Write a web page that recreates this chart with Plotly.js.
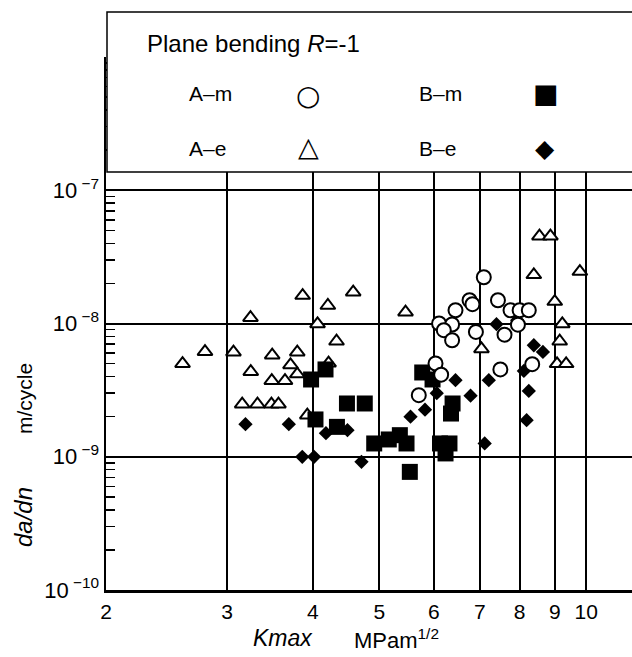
<!DOCTYPE html>
<html><head><meta charset="utf-8">
<script src="https://cdn.plot.ly/plotly-3.0.1.min.js"></script>
<style>html,body{margin:0;padding:0;overflow:hidden;background:#fff}</style>
</head><body>
<div id="chart" style="width:632px;height:657px"></div>
<script>
// ---- data (Kmax in MPa m^1/2, da/dn in m/cycle) ----
const Am_x = [7.095, 6.764, 6.83, 6.453, 7.44, 7.76, 8.0, 8.25, 6.107, 6.38, 6.205, 6.38, 6.91, 7.605, 7.955, 6.035, 6.15, 5.706, 7.50, 8.345];
const Am_y = [2.225e-8, 1.495e-8, 1.396e-8, 1.258e-8, 1.495e-8, 1.258e-8, 1.258e-8, 1.258e-8, 1.0e-8, 9.83e-9, 8.91e-9, 7.49e-9, 8.65e-9, 8.24e-9, 9.8e-9, 5.01e-9, 4.13e-9, 2.90e-9, 4.52e-9, 4.95e-9];

const Ae_x = [2.585, 2.787, 3.066, 3.246, 3.491, 3.797, 3.249, 3.712, 3.486, 3.644, 3.797, 3.157, 3.323, 3.482, 3.565, 3.927, 3.866, 4.207, 4.58, 4.064, 4.331, 5.458, 4.217, 7.04, 8.55, 8.87, 8.39, 9.79, 9.0, 9.23, 9.15, 9.07, 9.35];
const Ae_y = [4.99e-9, 6.14e-9, 6.09e-9, 1.105e-8, 5.78e-9, 6.09e-9, 4.35e-9, 4.89e-9, 3.72e-9, 3.72e-9, 4.17e-9, 2.48e-9, 2.48e-9, 2.48e-9, 2.48e-9, 2.05e-9, 1.62e-8, 1.365e-8, 1.717e-8, 9.93e-9, 7.36e-9, 1.216e-8, 5.04e-9, 6.45e-9, 4.52e-8, 4.52e-8, 2.32e-8, 2.455e-8, 1.46e-8, 9.93e-9, 7.36e-9, 4.98e-9, 4.98e-9];

const Bm_x = [4.174, 3.977, 4.485, 4.761, 4.036, 4.337, 4.914, 5.16, 5.355, 5.476, 5.537, 5.772, 5.975, 6.39, 6.356, 6.126, 6.324, 6.241];
const Bm_y = [4.52e-9, 3.80e-9, 2.51e-9, 2.51e-9, 1.905e-9, 1.676e-9, 1.258e-9, 1.348e-9, 1.452e-9, 1.258e-9, 7.70e-10, 4.29e-9, 3.80e-9, 2.51e-9, 2.11e-9, 1.258e-9, 1.258e-9, 1.059e-9];

const Be_x = [3.192, 3.691, 3.861, 4.017, 4.18, 4.493, 4.709, 5.55, 5.826, 6.06, 6.453, 6.787, 7.215, 7.116, 7.403, 7.934, 8.39, 8.65, 8.115, 8.25, 8.19];
const Be_y = [1.756e-9, 1.756e-9, 9.98e-10, 9.98e-10, 1.503e-9, 1.583e-9, 9.16e-10, 2.0e-9, 2.256e-9, 3.0e-9, 3.754e-9, 2.873e-9, 3.754e-9, 1.258e-9, 9.88e-9, 1.059e-8, 6.87e-9, 6.12e-9, 4.41e-9, 3.12e-9, 1.883e-9];

const seriesNames = ['A–m', 'A–e', 'B–m', 'B–e'];
const xTickVals = [2, 3, 4, 5, 6, 7, 8, 9, 10];
const xTickText = ['2', '3', '4', '5', '6', '7', '8', '9', '10'];
const yTickVals = [1e-10, 1e-9, 1e-8, 1e-7];
const yTickText = ['10<sup> −10</sup>', '10<sup> −9</sup>', '10<sup> −8</sup>', '10<sup> −7</sup>'];
const legendTitle = 'Plane bending <i>R</i>=-1';

// ---- layout helpers ----
const W = 632, H = 657;
const M = {l: 106, r: 0, t: 57, b: 67};
const PW = W - M.l - M.r, PH = H - M.t - M.b;
const px = v => (v - M.l) / PW;          // pixel -> paper x
const py = v => (H - M.b - v) / PH;       // pixel -> paper y

const minorVals = [];
for (let e = -10; e <= -7; e++) for (let k = 2; k <= 9; k++) minorVals.push(k * Math.pow(10, e));

const FONT = 'Liberation Sans, Arial, sans-serif';
const black = '#000';

const traces = [
  {x: Ae_x, y: Ae_y, name: seriesNames[1], type: 'scatter', mode: 'markers',
   marker: {symbol: 'triangle-up', size: 13, color: '#fff', line: {color: black, width: 2}}},
  {x: Be_x, y: Be_y, name: seriesNames[3], type: 'scatter', mode: 'markers',
   marker: {symbol: 'diamond', size: 11, color: black, line: {width: 0}}},
  {x: Bm_x, y: Bm_y, name: seriesNames[2], type: 'scatter', mode: 'markers',
   marker: {symbol: 'square', size: 16, color: black, line: {width: 0}}},
  {x: Am_x, y: Am_y, name: seriesNames[0], type: 'scatter', mode: 'markers',
   marker: {symbol: 'circle', size: 14, color: '#fff', line: {color: black, width: 2}}}
];

const ann = (text, x, y, opts) => Object.assign({
  text: text, xref: 'paper', yref: 'paper', x: px(x), y: py(y), showarrow: false,
  xanchor: 'left', yanchor: 'middle', font: {family: FONT, size: 21, color: black}
}, opts || {});

const layout = {
  width: W, height: H, margin: M, showlegend: false,
  paper_bgcolor: '#fff', plot_bgcolor: '#fff',
  font: {family: FONT, color: black},
  xaxis: {
    type: 'log', range: [Math.log10(2), Math.log10(2) + PW / 687],
    tickmode: 'array', tickvals: xTickVals, ticktext: xTickText,
    ticks: '', showgrid: true, gridcolor: black, gridwidth: 2,
    showline: true, linecolor: black, linewidth: 2.5, mirror: false,
    tickfont: {family: FONT, size: 21, color: black}, zeroline: false,
    ticklabelstandoff: 1
  },
  yaxis: {
    type: 'log', range: [-10, -6],
    tickmode: 'array', tickvals: yTickVals, ticktext: yTickText,
    ticks: '', showgrid: true, gridcolor: black, gridwidth: 2,
    showline: true, linecolor: black, linewidth: 2.5, mirror: false,
    tickfont: {family: FONT, size: 22, color: black}, zeroline: false,
    minor: {tickmode: 'array', tickvals: minorVals, ticks: 'inside', ticklen: 9,
            tickwidth: 1.5, tickcolor: black, showgrid: false}
  },
  shapes: [
    {type: 'rect', xref: 'paper', yref: 'paper', x0: px(107), x1: 1.1, y0: py(172), y1: py(12),
     fillcolor: '#fff', line: {color: black, width: 1.5}, layer: 'above'}
  ],
  annotations: [
    ann(legendTitle, 145, 44, {font: {family: FONT, size: 24, color: black}}),
    ann(seriesNames[0], 187, 93),
    ann(seriesNames[1], 187, 148),
    ann(seriesNames[2], 417, 93),
    ann(seriesNames[3], 417, 148),
    ann('○', 308, 95, {xanchor: 'center', font: {family: 'DejaVu Sans', size: 28, color: black}}),
    ann('△', 308, 146, {xanchor: 'center', font: {family: 'DejaVu Sans', size: 27, color: black}}),
    ann('■', 546, 94, {xanchor: 'center', font: {family: 'DejaVu Sans', size: 27, color: black}}),
    ann('◆', 545, 148, {xanchor: 'center', font: {family: 'DejaVu Sans', size: 25, color: black}}),
    ann('<i>Kmax</i>', 283, 638, {xanchor: 'center', font: {family: FONT, size: 23, color: black}}),
    ann('MPam<sup>1/2</sup>', 352, 639, {font: {family: FONT, size: 22, color: black}}),
    ann('m/cycle', 24, 399, {xanchor: 'center', textangle: -90, font: {family: FONT, size: 21, color: black}}),
    ann('<i>da/dn</i>', 23, 517, {xanchor: 'center', textangle: -90, font: {family: FONT, size: 24, color: black}})
  ]
};

Plotly.newPlot('chart', traces, layout, {displayModeBar: false, staticPlot: true});
</script>
</body></html>
